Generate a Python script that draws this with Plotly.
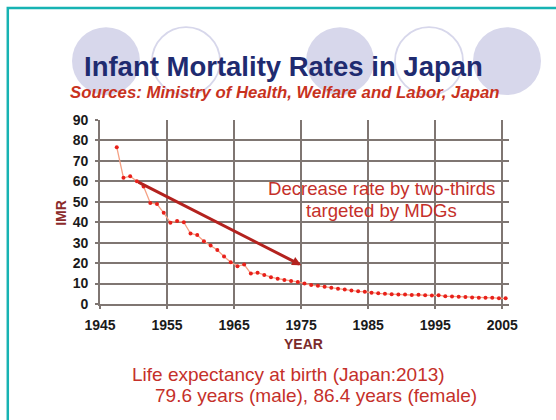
import plotly.graph_objects as go

# ---- data ----
years = list(range(1947, 2006))
imr = [76.7, 61.7, 62.5, 60.1, 57.5, 49.4, 48.9, 44.6, 39.8, 40.6,
       40.0, 34.5, 33.7, 30.7, 28.6, 26.4, 23.2, 20.4, 18.5, 19.3,
       14.9, 15.3, 14.2, 13.1, 12.4, 11.7, 11.3, 10.8, 10.0, 9.3,
       8.9, 8.4, 7.9, 7.5, 7.1, 6.6, 6.2, 6.0, 5.5, 5.2,
       5.0, 4.8, 4.6, 4.6, 4.4, 4.5, 4.3, 4.2, 4.3, 3.8,
       3.7, 3.6, 3.4, 3.2, 3.1, 3.0, 3.0, 2.8, 2.8]
x_ticks = [1945, 1955, 1965, 1975, 1985, 1995, 2005]
y_ticks = [0, 10, 20, 30, 40, 50, 60, 70, 80, 90]
target_start = (1950.5, 60.0)
target_end = (1975.0, 19.0)

W, H = 556, 420
L, R, T, B = 100, 509, 120, 304.3

def px(x):
    return (x - L) / (R - L)

def py(y):
    return (B - y) / (B - T)

fig = go.Figure()
fig.add_trace(go.Scatter(
    x=[y + 0.5 for y in years],  # plotted at mid-year
    y=imr, mode="lines+markers",
    line=dict(color="#f5a184", width=1.3),
    marker=dict(color="#e8201a", size=4),
    hoverinfo="skip", showlegend=False))

grid = "#7f7672"
tickfont = dict(size=14, color="#1a1a1a",
                family="Liberation Sans, Arial, sans-serif", weight="bold")
fig.update_layout(
    width=W, height=H,
    margin=dict(l=L, r=W - R, t=T, b=H - B, pad=0),
    paper_bgcolor="white", plot_bgcolor="white",
    font=dict(family="Liberation Sans, Arial, sans-serif"),
    xaxis=dict(range=[1945, 2006], tickvals=x_ticks, showgrid=True,
               gridcolor=grid, gridwidth=1.6, zeroline=False,
               showline=True, linecolor=grid, linewidth=1.6,
               ticks="outside", ticklen=3, tickcolor=grid, tickwidth=1.5,
               tickfont=tickfont, ticklabelstandoff=4),
    yaxis=dict(range=[0, 90], tickvals=y_ticks, showgrid=True,
               gridcolor=grid, gridwidth=1.6, zeroline=False,
               showline=True, linecolor=grid, linewidth=1.6,
               ticks="outside", ticklen=3, tickcolor=grid, tickwidth=1.5,
               tickfont=tickfont, ticklabelstandoff=4),
)

shapes = []
# decorative circles
circle_fill = "#d7d7eb"
for cx, filled in [(106, True), (186, False), (340, True), (429, False), (507, True)]:
    r = 34
    shapes.append(dict(type="circle", xref="paper", yref="paper",
                       x0=px(cx - r), x1=px(cx + r), y0=py(61 + r), y1=py(61 - r),
                       fillcolor=circle_fill if filled else "rgba(0,0,0,0)",
                       line=dict(color=circle_fill, width=0 if filled else 1.8),
                       layer="below"))
# teal frame
shapes.append(dict(type="rect", xref="paper", yref="paper",
                   x0=px(7.8), x1=px(570), y0=py(440), y1=py(7.8),
                   line=dict(color="#17b3b3", width=2.5),
                   fillcolor="rgba(0,0,0,0)", layer="below"))
fig.update_layout(shapes=shapes)

red = "#c5302a"
ann = [
    dict(text="<b>Infant Mortality Rates in Japan</b>", x=px(283), y=py(66),
         font=dict(size=27.5, color="#1f2b70")),
    dict(text="<b><i>Sources: Ministry of Health, Welfare and Labor, Japan</i></b>",
         x=px(285), y=py(92), font=dict(size=16.8, color="#c8321e")),
    dict(text="Decrease rate by two-thirds", x=px(381), y=py(189),
         font=dict(size=18.6, color=red)),
    dict(text="targeted by MDGs", x=px(381), y=py(211),
         font=dict(size=18.6, color=red)),
    dict(text="<b>YEAR</b>", x=px(303), y=py(344),
         font=dict(size=14, color="#7b2b2b")),
    dict(text="<b>IMR</b>", x=px(61), y=py(213), textangle=-90,
         font=dict(size=14, color="#8b2b2b")),
    dict(text="Life expectancy at birth (Japan:2013)", x=px(288), y=py(375),
         font=dict(size=19, color=red)),
    dict(text="79.6 years (male), 86.4 years (female)", x=px(316), y=py(396),
         font=dict(size=19, color=red)),
]
for a in ann:
    fig.add_annotation(xref="paper", yref="paper", showarrow=False,
                       xanchor="center", yanchor="middle", **a)

fig.add_annotation(x=target_end[0], y=target_end[1], ax=target_start[0], ay=target_start[1],
                   xref="x", yref="y", axref="x", ayref="y", text="",
                   showarrow=True, arrowhead=2, arrowsize=0.6, arrowwidth=3,
                   arrowcolor="#b3221e", standoff=0)

fig.write_html("out.html", config={"displayModeBar": False},
               post_script="document.body.style.margin='0';document.body.style.overflow='hidden';")
